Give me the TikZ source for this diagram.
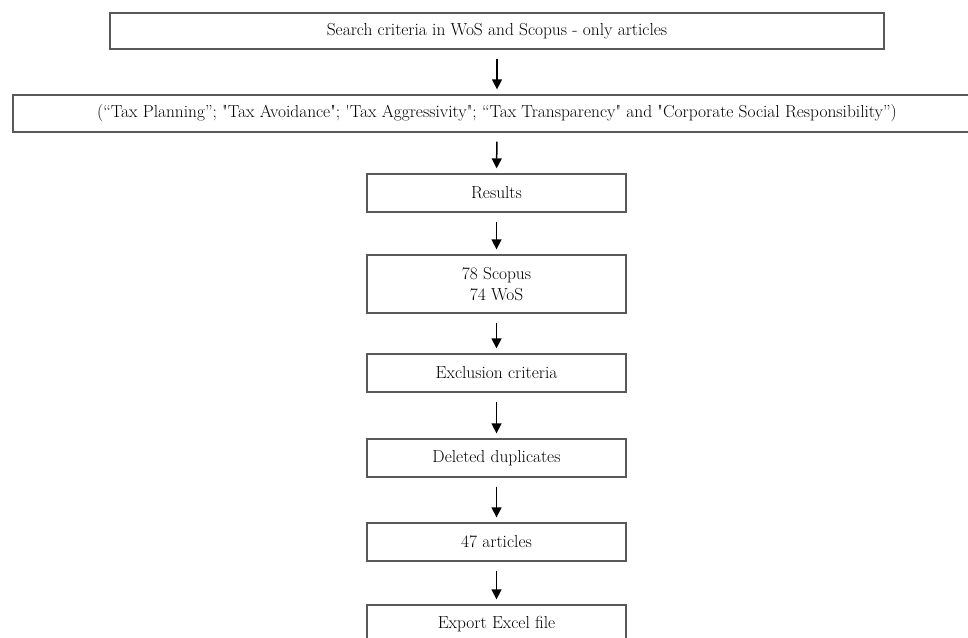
\documentclass[tikz,border=0pt]{standalone}
\usetikzlibrary{arrows.meta}
\begin{document}
\begin{tikzpicture}[x=1pt,y=-1pt,
  box/.style={draw=black!65, line width=1.3pt, fill=white, inner sep=0pt,
    font=\fontsize{17.4}{21}\selectfont, align=center, text=black},
  midbox/.style={box, minimum width=259pt, minimum height=38pt},
  flow/.style={-{Triangle[length=10pt,width=10pt]}, line width=1.5pt, black,
    shorten <=9pt, shorten >=5pt}]
\useasboundingbox (0,0) rectangle (968,637);
\clip (0,0) rectangle (968,637);
\fill[white] (0,0) rectangle (968,637);
\node[box, minimum width=774pt, minimum height=36pt] (b1) at (497,31)
  {Search criteria in WoS and Scopus - only articles};
\node[box, minimum width=968pt, minimum height=37pt] (b2) at (497,113.5)
  {(“Tax Planning”; \textquotedbl Tax Avoidance\textquotedbl; \textquotesingle Tax Aggressivity\textquotedbl; “Tax Transparency\textquotedbl\ and \textquotedbl Corporate Social Responsibility”)};
\node[midbox] (res) at (496.5,193) {Results};
\node[midbox, minimum height=58pt] (sco) at (496.5,284) {78 Scopus\\74 WoS};
\node[midbox] (exc) at (496.5,373) {Exclusion criteria};
\node[midbox] (del) at (496.5,458) {Deleted duplicates};
\node[midbox] (art) at (496.5,542) {47 articles};
\node[midbox] (exp) at (496.5,624) {Export Excel file};
\draw[flow] (b1) -- (b2);
\draw[flow] (b2) -- (res);
\draw[flow] (res) -- (sco);
\draw[flow] (sco) -- (exc);
\draw[flow] (exc) -- (del);
\draw[flow] (del) -- (art);
\draw[flow] (art) -- (exp);
\end{tikzpicture}
\end{document}
